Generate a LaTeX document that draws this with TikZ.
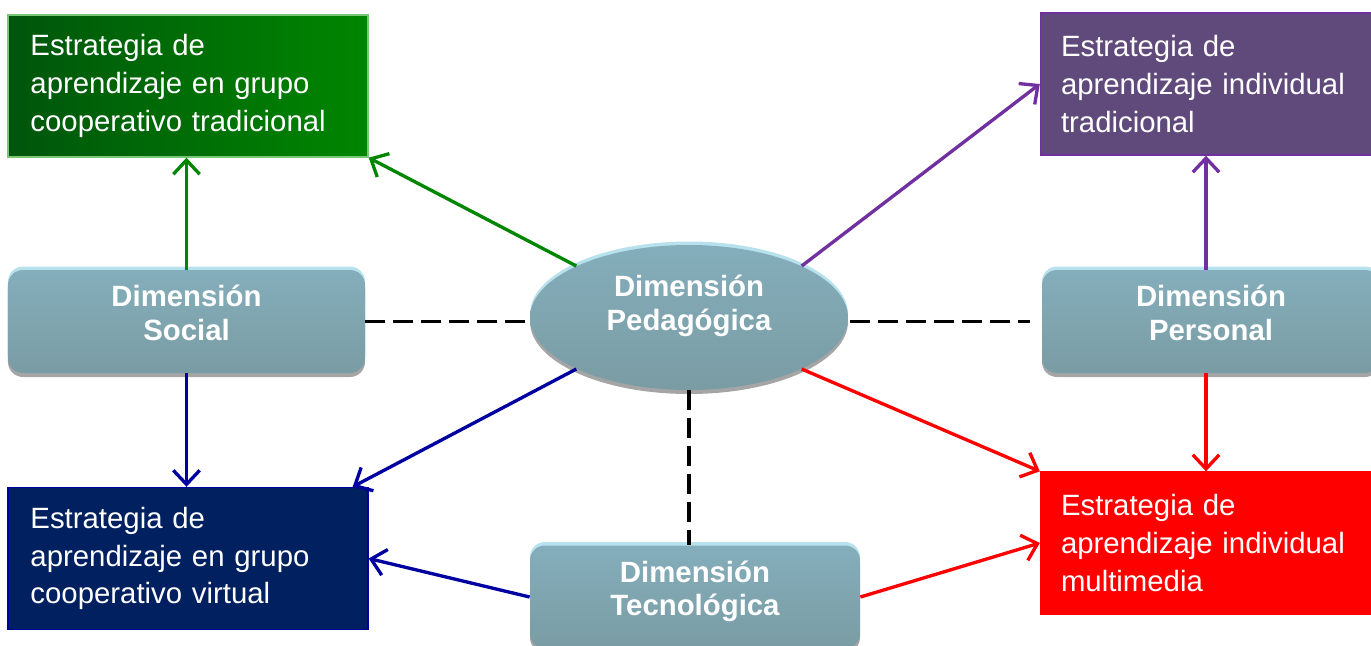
\documentclass[tikz,border=0pt]{standalone}
\usepackage{fontspec}
\setmainfont{Liberation Sans}
\usetikzlibrary{shapes.geometric}
\usetikzlibrary{shadows}
\usetikzlibrary{arrows.meta}

\definecolor{dimtop}{RGB}{132,174,187}
\definecolor{dimbot}{RGB}{122,156,164}
\definecolor{dimedge}{RGB}{183,225,236}
\definecolor{dimshadow}{RGB}{165,165,165}
\definecolor{grpdark}{RGB}{0,85,12}
\definecolor{grpgreen}{RGB}{0,134,0}
\definecolor{grpedge}{RGB}{120,200,120}
\definecolor{indpurple}{RGB}{96,74,123}
\definecolor{indedge}{RGB}{112,48,160}
\definecolor{virtnavy}{RGB}{0,32,96}
\definecolor{virtedge}{RGB}{0,0,160}

\begin{document}
\begin{tikzpicture}[
    dim/.style={rounded corners=0.3cm, top color=dimtop, bottom color=dimbot, text=white, align=center, font=\fontsize{16.7}{19.3}\selectfont\bfseries, minimum width=#1, minimum height=2.06cm, inner sep=0pt, text depth=0.35cm, general shadow={fill=dimshadow, shadow yshift=-0.08cm}, general shadow={fill=dimedge, shadow yshift=0.07cm}},
    ped/.style={ellipse, top color=dimtop, bottom color=dimbot, text=white, align=center, font=\fontsize{16.7}{19.3}\selectfont\bfseries, minimum width=6.36cm, minimum height=2.9cm, inner sep=0pt, text depth=0.58cm, general shadow={fill=dimshadow, shadow yshift=-0.08cm}, general shadow={fill=dimedge, shadow yshift=0.07cm}},
    est/.style={draw, line width=0.8pt, text=white, align=left, font=\fontsize{16.7}{21.5}\selectfont, text width=#1, minimum height=2.84cm, inner xsep=0.45cm},
    flecha/.style={line width=1.9pt, -{Straight Barb[length=8pt,width=15pt,line width=1.9pt]}},
    enlace/.style={line width=1.9pt, dash pattern=on 0.4cm off 0.16cm}
    ]
\useasboundingbox (0, 0) rectangle (27.42, -12.9);

% estrategias
\node[est=6.3cm, draw=grpedge, shading=axis, left color=grpdark, middle color=grpgreen, right color=grpgreen] at (3.76, -1.72) (EGT) {Estrategia de\\aprendizaje en grupo\\cooperativo tradicional};
\node[est=5.8cm, inner xsep=0.41cm, draw=indedge, fill=indpurple] at (24.12, -1.68) (EIT) {Estrategia de\\aprendizaje individual\\tradicional};
\node[est=6.3cm, draw=virtedge, fill=virtnavy] at (3.76, -11.17) (EGV) {Estrategia de\\aprendizaje en grupo\\cooperativo virtual};
\node[est=5.8cm, inner xsep=0.41cm, draw=red, fill=red] at (24.12, -10.86) (EIM) {Estrategia de\\aprendizaje individual\\multimedia};

% dimensiones
\node[dim=7.14cm] at (3.73, -6.43) (DSOC) {Dimensión\\Social};
\node[dim=6.76cm] at (24.22, -6.43) (DPER) {Dimensión\\Personal};
\node[dim=6.6cm] at (13.9, -11.94) (DTEC) {Dimensión\\Tecnológica};
\node[ped] at (13.78, -6.35) (DPED) {Dimensión\\Pedagógica};

% enlaces
\draw[enlace, shorten >=0.04cm] (DSOC.east) -- (DPED.west |- DSOC.east);
\draw[enlace, shorten <=0.04cm] (DPED.east |- DPER.west) -- ([xshift=-0.24cm]DPER.west);
\draw[enlace] (DPED.south) -- (DPED.south |- DTEC.north);

% flechas
\draw[flecha, color=grpgreen] (DSOC.north) -- (DSOC.north |- EGT.south);
\draw[flecha, color=grpgreen] (DPED.north west) -- (EGT.south east);
\draw[flecha, color=indedge] (DPED.north east) -- (EIT.west);
\draw[flecha, color=indedge] (DPER.north -| EIT.south) -- (EIT.south);
\draw[flecha, color=virtedge] (DSOC.south) -- (DSOC.south |- EGV.north);
\draw[flecha, color=virtedge] (DPED.south west) -- ([xshift=-0.32cm]EGV.north east);
\draw[flecha, color=virtedge] (DTEC.west) -- (EGV.east);
\draw[flecha, color=red] (DPED.south east) -- (EIM.north west);
\draw[flecha, color=red] (DPER.south -| EIM.north) -- (EIM.north);
\draw[flecha, color=red] (DTEC.east) -- (EIM.west);
\end{tikzpicture}
\end{document}
